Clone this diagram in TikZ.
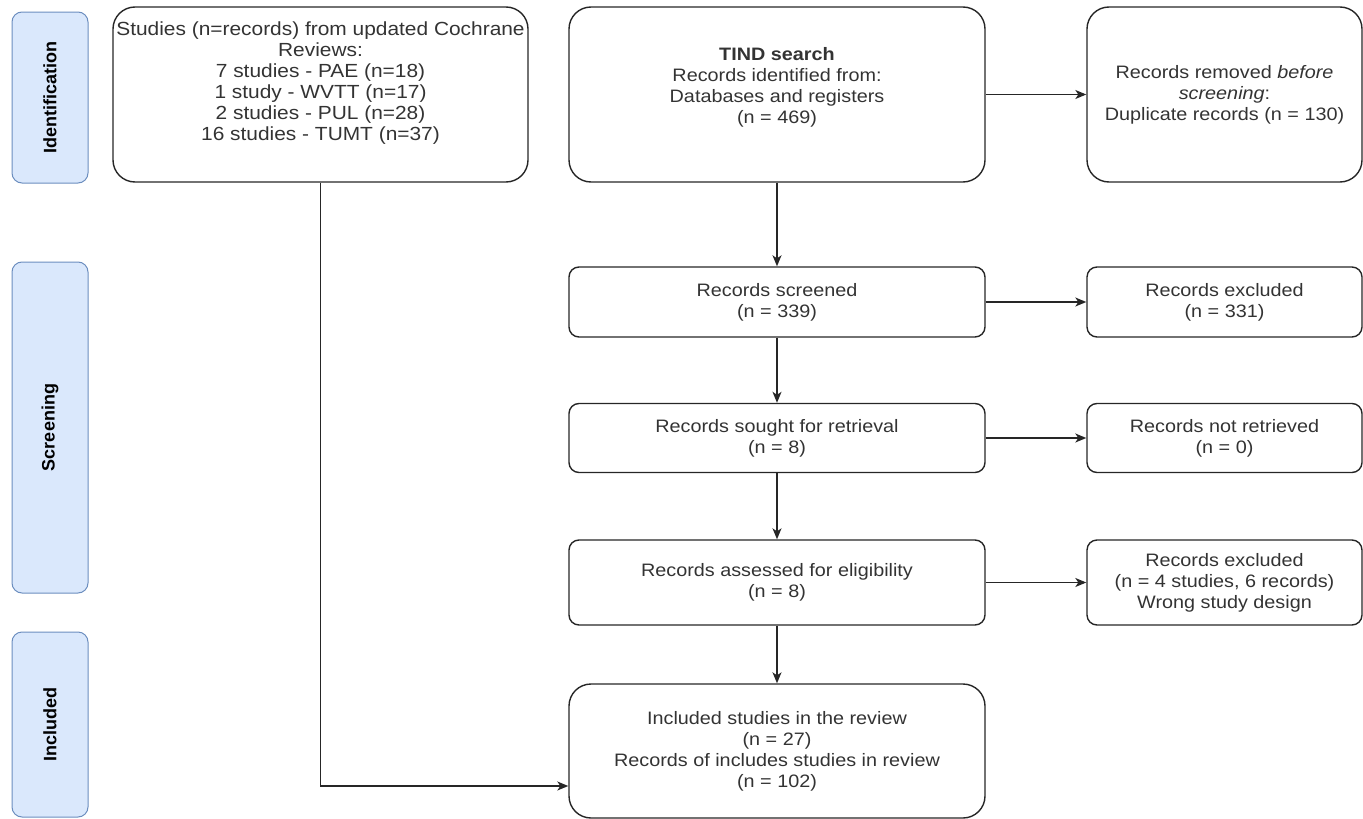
\documentclass[tikz,border=0pt]{standalone}
\usepackage{fontspec}
\setmainfont{Liberation Sans}[FakeStretch=1.1]
\newfontfamily\phasefont{Liberation Sans}
\usetikzlibrary{shapes, calc, arrows.meta, math}

\definecolor{phasefill}{HTML}{DAE8FC}
\definecolor{phaseline}{HTML}{6C8EBF}

\begin{document}
\begin{tikzpicture}[x=1pt, y=-1pt, >={Stealth[length=11pt, width=9pt, inset=3pt]},
  box/.style={draw=black!85, line width=1.4pt, rounded corners=10pt},
  bigbox/.style={box, rounded corners=22pt},
  boxtext/.style={align=center, text=black!80, inner sep=0pt, font=\fontsize{18}{21}\selectfont},
  phase/.style={draw=phaseline, fill=phasefill, line width=1pt, rounded corners=10pt, rotate=90,
    minimum height=76pt, inner sep=0pt, font=\phasefont\bfseries\fontsize{18}{20}\selectfont},
  link/.style={->, line width=1.4pt, draw=black!85}]

\tikzmath{
			\xs = 50; \xl = 320.5; \xm = 777; \xr = 1224.5;
			\bwl = 415; \bwm = 416; \bwr = 275;
			\ya = 94.5; \yb = 302; \yc = 438; \yd = 582.5; \ye = 751;
          }

\useasboundingbox (0,0) rectangle (1363,819);

\node[phase, minimum width=171pt] (identification) at (\xs,97.5) {Identification};
\node[phase, minimum width=331pt] (screening) at (\xs,427.5) {Screening};
\node[phase, minimum width=185pt] (included) at (\xs,724.5) {Included};

\node[bigbox, minimum width=\bwl pt, minimum height=175pt] (cochrane) at (\xl,\ya) {};
\node[boxtext, font=\fontsize{19}{21}\selectfont] (cochranetext) at (\xl,83) {Studies (n=records) from updated Cochrane\\ Reviews:\\ 7 studies - PAE (n=18)\\
  1 study - WVTT (n=17)\\ 2 studies - PUL (n=28)\\ 16 studies - TUMT (n=37)};

\node[bigbox, minimum width=\bwm pt, minimum height=175pt] (tind) at (\xm,\ya) {};
\node[boxtext] (tindtext) at (\xm,87) {\textbf{TIND search}\\ Records identified from:\\ Databases and registers\\ (n = 469)};

\node[bigbox, boxtext, minimum width=\bwr pt, minimum height=175pt] (removed) at (\xr,\ya)
  {Records removed \textit{before}\\ \textit{screening}:\\ Duplicate records (n = 130)};

\node[box, boxtext, minimum width=\bwm pt, minimum height=70pt] (screened) at (\xm,\yb) {Records screened\\ (n = 339)};
\node[box, boxtext, minimum width=\bwr pt, minimum height=70pt] (excluded) at (\xr,\yb) {Records excluded\\ (n = 331)};

\node[box, boxtext, minimum width=\bwm pt, minimum height=69pt] (sought) at (\xm,\yc) {Records sought for retrieval\\ (n = 8)};
\node[box, boxtext, minimum width=\bwr pt, minimum height=69pt] (notretrieved) at (\xr,\yc) {Records not retrieved\\ (n = 0)};

\node[box, boxtext, minimum width=\bwm pt, minimum height=85pt] (assessed) at (\xm,\yd) {Records assessed for eligibility\\ (n = 8)};
\node[box, boxtext, minimum width=\bwr pt, minimum height=85pt] (ineligible) at (\xr,\yd)
  {Records excluded\\ (n = 4 studies, 6 records)\\ Wrong study design};

\node[bigbox, boxtext, minimum width=\bwm pt, minimum height=134pt] (review) at (\xm,\ye)
  {Included studies in the review\\ (n = 27)\\ Records of includes studies in review\\ (n = 102)};

\draw[link] (tind) -- (screened);
\draw[link] (screened) -- (sought);
\draw[link] (sought) -- (assessed);
\draw[link] (assessed) -- (review);

\draw[link] (tind) -- (removed);
\draw[link] (screened) -- (excluded);
\draw[link] (sought) -- (notretrieved);
\draw[link] (assessed) -- (ineligible);

\draw[link] (cochrane) |- ([yshift=-35pt]review.west);

\end{tikzpicture}
\end{document}
